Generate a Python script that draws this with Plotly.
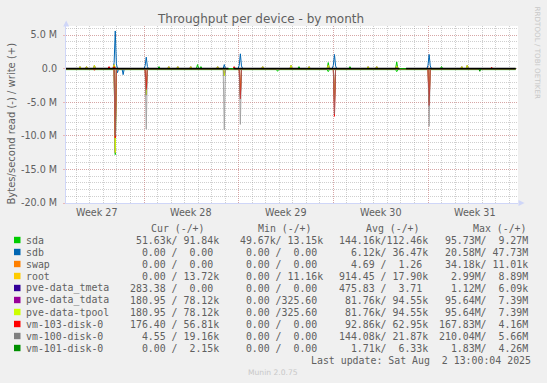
import plotly.graph_objects as go

# ---------------- data (values in M bytes/second) ----------------
T0 = "2025-06-30 05:35"
T1 = "2025-08-02 11:30"

series_names = ["sda", "sdb", "swap", "root", "pve-data_tmeta", "pve-data_tdata",
                "pve-data-tpool", "vm-103-disk-0", "vm-100-disk-0", "vm-101-disk-0"]
series_colors = ["#00CC00", "#0066B3", "#FF8000", "#FFCC00", "#330099", "#990099",
                 "#CCFF00", "#FF0000", "#808080", "#008F00"]

# write (+) samples: (time, value)
sda_write = [(T0, 0), ("2025-07-07 00:40", 0), ("2025-07-07 02:40", 0.3), ("2025-07-07 04:40", 0),
             ("2025-07-09 21:00", 0), ("2025-07-09 23:00", 0.6), ("2025-07-10 01:00", 0),
             ("2025-07-10 03:00", 0), ("2025-07-10 05:00", 0.3), ("2025-07-10 07:00", 0),
             ("2025-07-17 09:00", 0), ("2025-07-17 11:00", 0.3), ("2025-07-17 13:00", 0),
             ("2025-07-19 13:00", 0), ("2025-07-19 15:00", 0.9), ("2025-07-19 17:00", 0),
             ("2025-07-21 03:30", 0), ("2025-07-21 05:30", 0.3), ("2025-07-21 07:30", 0),
             ("2025-07-24 14:30", 0), ("2025-07-24 16:30", 1.0), ("2025-07-24 18:30", 0),
             ("2025-07-27 22:00", 0), ("2025-07-28 00:00", 0.3), ("2025-07-28 02:00", 0), (T1, 0)]
sdb_write = [(T0, 0), ("2025-07-03 17:00", 0), ("2025-07-03 19:00", 0.9), ("2025-07-03 21:00", 5.6),
             ("2025-07-03 23:00", 0.7), ("2025-07-04 01:00", 0),
             ("2025-07-06 00:00", 0), ("2025-07-06 02:00", 0.4), ("2025-07-06 04:00", 1.7),
             ("2025-07-06 06:00", 0.3), ("2025-07-06 08:00", 0),
             ("2025-07-11 20:30", 0), ("2025-07-11 22:30", 0.6), ("2025-07-12 00:30", 0),
             ("2025-07-12 23:00", 0), ("2025-07-13 01:00", 0.5), ("2025-07-13 03:00", 2.2),
             ("2025-07-13 05:00", 0.4), ("2025-07-13 07:00", 0),
             ("2025-07-19 22:00", 0), ("2025-07-20 00:00", 0.5), ("2025-07-20 02:00", 2.1),
             ("2025-07-20 04:00", 0.4), ("2025-07-20 06:00", 0),
             ("2025-07-26 22:00", 0), ("2025-07-27 00:00", 0.5), ("2025-07-27 02:00", 2.1),
             ("2025-07-27 04:00", 0.4), ("2025-07-27 06:00", 0), (T1, 0)]
swap_write = [(T0, 0), (T1, 0)]
root_write = [(T0, 0), ("2025-07-03 17:00", 0), ("2025-07-03 19:00", 0.5), ("2025-07-03 21:00", 0), (T1, 0)]
tmeta_write = [(T0, 0), (T1, 0)]
tpool_write = [(T0, 0), ("2025-07-01 04:30", 0), ("2025-07-01 06:30", 0.3), ("2025-07-01 08:30", 0),
               ("2025-07-01 16:00", 0), ("2025-07-01 18:00", 0.3), ("2025-07-01 20:00", 0),
               ("2025-07-02 06:00", 0), ("2025-07-02 08:00", 0.5), ("2025-07-02 10:00", 0),
               ("2025-07-03 17:00", 0), ("2025-07-03 19:00", 0.6), ("2025-07-03 21:00", 0),
               ("2025-07-07 18:00", 0), ("2025-07-07 20:00", 0.3), ("2025-07-07 22:00", 0),
               ("2025-07-08 10:00", 0), ("2025-07-08 12:00", 0.3), ("2025-07-08 14:00", 0),
               ("2025-07-09 09:00", 0), ("2025-07-09 11:00", 0.3), ("2025-07-09 13:00", 0),
               ("2025-07-11 08:45", 0), ("2025-07-11 10:45", 0.3), ("2025-07-11 12:45", 0),
               ("2025-07-14 16:40", 0), ("2025-07-14 18:40", 0.3), ("2025-07-14 20:40", 0),
               ("2025-07-16 19:00", 0), ("2025-07-16 21:00", 0.5), ("2025-07-16 23:00", 0),
               ("2025-07-18 03:00", 0), ("2025-07-18 05:00", 0.3), ("2025-07-18 07:00", 0),
               ("2025-07-19 13:00", 0), ("2025-07-19 15:00", 0.5), ("2025-07-19 17:00", 0),
               ("2025-07-22 11:40", 0), ("2025-07-22 13:40", 0.3), ("2025-07-22 15:40", 0),
               ("2025-07-23 03:00", 0), ("2025-07-23 05:00", 0.3), ("2025-07-23 07:00", 0),
               ("2025-07-24 14:30", 0), ("2025-07-24 16:30", 0.4), ("2025-07-24 18:30", 0),
               ("2025-07-29 10:00", 0), ("2025-07-29 12:00", 0.3), ("2025-07-29 14:00", 0),
               ("2025-07-29 19:40", 0), ("2025-07-29 21:40", 0.5), ("2025-07-29 23:40", 0), (T1, 0)]
tdata_write = tpool_write  # identical readings (same legend stats)
vm103_write = [(T0, 0), ("2025-07-03 08:00", 0), ("2025-07-03 10:00", 0.3), ("2025-07-03 12:00", 0),
               ("2025-07-03 17:00", 0), ("2025-07-03 19:00", 0.3), ("2025-07-03 21:00", 0),
               ("2025-07-12 14:00", 0), ("2025-07-12 16:00", 0.3), ("2025-07-12 18:00", 0),
               ("2025-07-31 15:00", 0), ("2025-07-31 17:00", 0.2), ("2025-07-31 19:00", 0), (T1, 0)]
vm100_write = [(T0, 0), (T1, 0)]
vm101_write = [(T0, 0), (T1, 0)]

# read (-) samples: (time, magnitude)
sda_read = [(T0, 0.15), ("2025-07-03 19:00", 0.15), ("2025-07-03 21:00", 12.8), ("2025-07-03 23:00", 0.15),
            ("2025-07-15 19:00", 0.15), ("2025-07-15 21:00", 0.4), ("2025-07-15 23:00", 0.15),
            ("2025-07-19 13:00", 0.15), ("2025-07-19 15:00", 0.45), ("2025-07-19 17:00", 0.15),
            ("2025-07-24 14:30", 0.15), ("2025-07-24 16:30", 0.45), ("2025-07-24 18:30", 0.15), (T1, 0.15)]
sdb_read = [(T0, 0), ("2025-07-03 23:00", 0), ("2025-07-04 01:00", 0.6), ("2025-07-04 03:00", 0),
            ("2025-07-04 09:00", 0), ("2025-07-04 11:00", 0.9), ("2025-07-04 13:00", 0), (T1, 0)]
swap_read = [(T0, 0), (T1, 0)]
root_read = [(T0, 0), (T1, 0)]
tmeta_read = [(T0, 0), (T1, 0)]
tpool_read = [(T0, 0), ("2025-07-03 19:00", 0), ("2025-07-03 21:00", 12.5), ("2025-07-03 23:00", 0),
              ("2025-07-06 02:00", 0), ("2025-07-06 04:00", 3.9), ("2025-07-06 06:00", 0),
              ("2025-07-11 20:30", 0), ("2025-07-11 22:30", 1.1), ("2025-07-12 00:30", 0),
              ("2025-07-13 01:00", 0), ("2025-07-13 03:00", 4.0), ("2025-07-13 05:00", 0),
              ("2025-07-20 00:00", 0), ("2025-07-20 02:00", 5.0), ("2025-07-20 04:00", 0),
              ("2025-07-27 00:00", 0), ("2025-07-27 02:00", 5.0), ("2025-07-27 04:00", 0), (T1, 0)]
tdata_read = tpool_read
vm103_read = [(T0, 0), ("2025-07-02 06:00", 0), ("2025-07-02 08:00", 0.25), ("2025-07-02 10:00", 0),
              ("2025-07-03 19:00", 0), ("2025-07-03 21:00", 10.3), ("2025-07-03 23:00", 0),
              ("2025-07-06 02:00", 0), ("2025-07-06 04:00", 3.1), ("2025-07-06 06:00", 0),
              ("2025-07-13 01:00", 0), ("2025-07-13 03:00", 4.5), ("2025-07-13 05:00", 0),
              ("2025-07-20 00:00", 0), ("2025-07-20 02:00", 7.1), ("2025-07-20 04:00", 0),
              ("2025-07-27 00:00", 0), ("2025-07-27 02:00", 5.5), ("2025-07-27 04:00", 0), (T1, 0)]
vm100_read = [(T0, 0), ("2025-07-03 19:00", 0), ("2025-07-03 21:00", 10.0), ("2025-07-03 23:00", 0),
              ("2025-07-06 02:00", 0), ("2025-07-06 04:00", 9.0), ("2025-07-06 06:00", 0),
              ("2025-07-11 20:30", 0), ("2025-07-11 22:30", 9.1), ("2025-07-12 00:30", 0),
              ("2025-07-13 01:00", 0), ("2025-07-13 03:00", 8.3), ("2025-07-13 05:00", 0),
              ("2025-07-20 00:00", 0), ("2025-07-20 02:00", 6.8), ("2025-07-20 04:00", 0),
              ("2025-07-27 00:00", 0), ("2025-07-27 02:00", 8.6), ("2025-07-27 04:00", 0), (T1, 0)]
vm101_read = [(T0, 0), ("2025-07-30 18:00", 0), ("2025-07-30 20:00", 0.4), ("2025-07-30 22:00", 0), (T1, 0)]

zero_line_span = (T0, T1)
zero_line_gaps = [("2025-07-12 06:00", "2025-07-12 15:00"), ("2025-07-24 21:00", "2025-07-25 09:00")]

# axis
x_range = ["2025-06-30 05:35", "2025-08-02 15:43"]
week_starts = ["2025-07-06", "2025-07-13", "2025-07-20", "2025-07-27"]
week_label_pos = ["2025-07-02 12:00", "2025-07-09 12:00", "2025-07-16 12:00",
                  "2025-07-23 12:00", "2025-07-30 12:00"]
week_labels = ["Week 27", "Week 28", "Week 29", "Week 30", "Week 31"]
y_ticks = [-20, -15, -10, -5, 0, 5]
y_tick_labels = ["-20.0 M", "-15.0 M", "-10.0 M", "-5.0 M", "0.0", "5.0 M"]

# legend table
legend_headers = ["Cur (-/+)", "Min (-/+)", "Avg (-/+)", "Max (-/+)"]
cur_vals = [" 51.63k/ 91.84k", "  0.00 /  0.00 ", "  0.00 /  0.00 ", "  0.00 / 13.72k",
            "283.38 /  0.00 ", "180.95 / 78.12k", "180.95 / 78.12k", "176.40 / 56.81k",
            "  4.55 / 19.16k", "  0.00 /  2.15k"]
min_vals = [" 49.67k/ 13.15k", "  0.00 /  0.00 ", "  0.00 /  0.00 ", "  0.00 / 11.16k",
            "  0.00 /  0.00 ", "  0.00 /325.60 ", "  0.00 /325.60 ", "  0.00 /  0.00 ",
            "  0.00 /  0.00 ", "  0.00 /  0.00 "]
avg_vals = ["144.16k/112.46k", "  6.12k/ 36.47k", "  4.69 /  1.26 ", "914.45 / 17.90k",
            "475.83 /  3.71 ", " 81.76k/ 94.55k", " 81.76k/ 94.55k", " 92.86k/ 62.95k",
            "144.08k/ 21.87k", "  1.71k/  6.33k"]
max_vals = [" 95.73M/  9.27M", " 20.58M/ 47.73M", " 34.18k/ 11.01k", "  2.99M/  8.89M",
            "  1.12M/  6.09k", " 95.64M/  7.39M", " 95.64M/  7.39M", "167.83M/  4.16M",
            "210.04M/  5.66M", "  1.83M/  4.26M"]
last_update = "Last update: Sat Aug  2 13:00:04 2025"

# ---------------- figure ----------------
W, H = 547, 383
ML, MR, MT, MB = 66, 29, 26, 180
PW, PH = W - ML - MR, H - MT - MB
FONT = "#606060"

def fx(px):
    return (px - ML) / PW

def fy(py):
    return (H - MB - py) / PH

fig = go.Figure()

writes = [sda_write, sdb_write, swap_write, root_write, tmeta_write, tdata_write,
          tpool_write, vm103_write, vm100_write, vm101_write]
reads = [sda_read, sdb_read, swap_read, root_read, tmeta_read, tdata_read,
         tpool_read, vm103_read, vm100_read, vm101_read]

for i in range(len(series_names)):
    op = 0.7 if series_names[i] == "vm-100-disk-0" else 1.0
    for pts, sign in ((reads[i], -1), (writes[i], 1)):
        fig.add_trace(go.Scatter(
            x=[p[0] for p in pts], y=[sign * p[1] for p in pts], mode="lines",
            line=dict(color=series_colors[i], width=1), opacity=op,
            showlegend=False, hoverinfo="skip", name=series_names[i]))

# zero line with gaps
zx, zy = [zero_line_span[0]], [0]
for a, b in zero_line_gaps:
    zx += [a, None, b]
    zy += [0, None, 0]
zx.append(zero_line_span[1]); zy.append(0)
fig.add_trace(go.Scatter(x=zx, y=zy, mode="lines", line=dict(color="#000000", width=1.5),
                         showlegend=False, hoverinfo="skip", connectgaps=False))

GRID = "rgba(140,140,140,0.42)"
MGRID = "rgba(225,110,110,0.42)"

fig.update_layout(
    width=W, height=H, margin=dict(l=ML, r=MR, t=MT, b=MB, autoexpand=False),
    paper_bgcolor="#F0F0F0", plot_bgcolor="#FFFFFF",
    font=dict(family="DejaVu Sans", color=FONT, size=9.6),
    xaxis=dict(type="date", range=x_range, tickvals=week_starts, showticklabels=False,
               showgrid=True, gridcolor=MGRID, griddash="1px,1px", gridwidth=1,
               ticks="", zeroline=False, showline=True, linecolor="#CFD6F8", linewidth=1,
               automargin=False,
               minor=dict(dtick=86400000, tick0="2025-06-29", showgrid=True,
                          gridcolor=GRID, griddash="1px,1px", gridwidth=1)),
    yaxis=dict(range=[-20, 6.34], tickvals=y_ticks, ticktext=y_tick_labels,
               showgrid=True, gridcolor=MGRID, griddash="1px,1px", gridwidth=1,
               zeroline=False, showline=True, linecolor="#CFD6F8", linewidth=1,
               ticks="outside", ticklen=2, tickcolor=MGRID, ticklabelstandoff=4,
               tickfont=dict(size=9.6, color=FONT), automargin=False,
               minor=dict(dtick=1, tick0=0, showgrid=True, gridcolor=GRID,
                          griddash="1px,1px", gridwidth=1)),
)

ann = []
shapes = []

def txt(px, py, s, size, color=FONT, anchor="left", family="DejaVu Sans", angle=0, nb=False):
    if nb:
        s = s.replace(" ", "\u00a0")
    ann.append(dict(x=fx(px), y=fy(py), xref="paper", yref="paper", text=s, showarrow=False,
                    xanchor=anchor, yanchor="middle", borderpad=0, borderwidth=0,
                    textangle=angle, font=dict(size=size, color=color, family=family)))

# title, axis title, watermarks
txt(260.8, 19.5, "Throughput per device - by month", 12, anchor="center")
txt(10.5, 124, "Bytes/second read (-) / write (+)", 10, anchor="center", angle=-90)
txt(537.5, 53, "RRDTOOL / TOBI OETIKER", 7.2, color="#C8C8C8", anchor="center", angle=90)
txt(273, 372, "Munin 2.0.75", 7.6, color="#C8C8C8", anchor="center")

# week labels
for pos, lab in zip(week_label_pos, week_labels):
    ann.append(dict(x=pos, y=fy(212.5), xref="x", yref="paper", text=lab, showarrow=False,
                    xanchor="center", yanchor="middle", borderpad=0, borderwidth=0,
                    font=dict(size=9.6, color=FONT)))

# legend table
MONO = "DejaVu Sans Mono"
MS = 9.9
header_x = [151.2, 257.8, 366.2, 472.8]
for hx, h in zip(header_x, legend_headers):
    txt(hx, 228, h, MS, family=MONO, nb=True)
col_x = [130.2, 233.5, 338.8, 439.2]
for r in range(len(series_names)):
    ry = 240 + 12 * r
    shapes.append(dict(type="rect", xref="paper", yref="paper",
                       x0=fx(14), x1=fx(20.5), y0=fy(ry - 3.2), y1=fy(ry + 3.2),
                       fillcolor=series_colors[r], line=dict(width=0)))
    txt(26.3, ry, series_names[r], MS, family=MONO, nb=True)
    for cx, vals in zip(col_x, (cur_vals, min_vals, avg_vals, max_vals)):
        txt(cx, ry, vals[r], MS, family=MONO, nb=True)
txt(311.2, 360, last_update, MS, family=MONO, nb=True)

# axis arrows
ARROW = "#CFD6F8"
shapes.append(dict(type="path", xref="paper", yref="paper",
                   path=f"M {fx(63.2)},{fy(26.5)} L {fx(66.2)},{fy(20.5)} L {fx(69.2)},{fy(26.5)} Z",
                   fillcolor=ARROW, line=dict(width=0)))
shapes.append(dict(type="path", xref="paper", yref="paper",
                   path=f"M {fx(518.5)},{fy(200)} L {fx(524.5)},{fy(203)} L {fx(518.5)},{fy(206)} Z",
                   fillcolor=ARROW, line=dict(width=0)))

fig.update_layout(annotations=ann, shapes=shapes)
fig.write_html("out.html", config={"displayModeBar": False},
               post_script="document.body.style.margin='0';document.body.style.overflow='hidden';")
